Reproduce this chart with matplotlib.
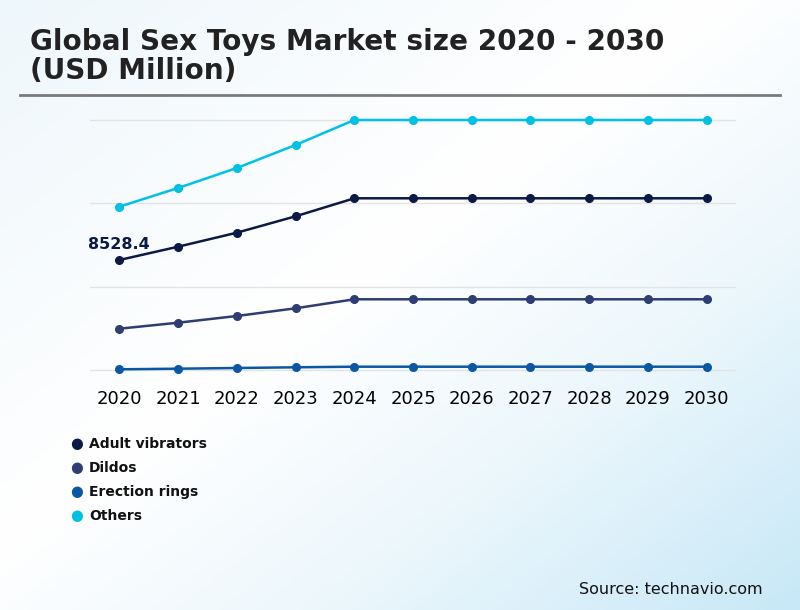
import numpy as np
import matplotlib

matplotlib.use("Agg")
import matplotlib.pyplot as plt
from matplotlib.colors import LinearSegmentedColormap

years = ["2020", "2021", "2022", "2023", "2024", "2025", "2026", "2027", "2028", "2029", "2030"]
adult_vibrators = [8528.4, 9557, 10639, 11907, 13299, 13299, 13299, 13299, 13299, 13299, 13299]
dildos = [3217, 3680, 4199, 4794, 5490, 5490, 5490, 5490, 5490, 5490, 5490]
erection_rings = [77, 124, 178, 232, 278, 278, 278, 278, 278, 278, 278]
others = [12650, 14096, 15642, 17420, 19353, 19353, 19353, 19353, 19353, 19353, 19353]

series = [
    ("Adult vibrators", adult_vibrators, "#0b1a45"),
    ("Dildos", dildos, "#2e3d72"),
    ("Erection rings", erection_rings, "#0a57a4"),
    ("Others", others, "#00c0e4"),
]

W, H = 800, 610
fig = plt.figure(figsize=(W / 100, H / 100), dpi=100)

# background: diagonal gradient, faint tint top-left, white band, light blue bottom-right
bg = fig.add_axes([0, 0, 1, 1])
yy, xx = np.mgrid[0:1:200j, 0:1:260j]
t = (xx + yy) / 2
cmap = LinearSegmentedColormap.from_list(
    "bg", [(0, "#eef7fb"), (0.45, "#ffffff"), (0.7, "#ecf7fc"), (1, "#c8e8f7")])
bg.imshow(t, cmap=cmap, aspect="auto", extent=(0, 1, 0, 1), origin="upper", vmin=0, vmax=1)
bg.set_xlim(0, 1)
bg.set_ylim(0, 1)
bg.axis("off")

# title, two lines placed by baseline
fig.text(30 / W, 1 - 50 / H, "Global Sex Toys Market size 2020 - 2030",
         fontsize=20.1, fontweight="bold", color="#222222", va="baseline", ha="left")
fig.text(30 / W, 1 - 79 / H, "(USD Million)",
         fontsize=20.1, fontweight="bold", color="#222222", va="baseline", ha="left")
bg.plot([20 / W, 780 / W], [1 - 95 / H, 1 - 95 / H], color="#7a7a7a", linewidth=2)

# main axes: px 90..736 horizontally
top_val = max(others)
px_per_val = 250.3 / top_val
y_lo = -4.7 / px_per_val
y_hi = top_val + 5 / px_per_val
ax_top, ax_bot = 115, 375
ax = fig.add_axes([90 / W, 1 - ax_bot / H, (736 - 90) / W, (ax_bot - ax_top) / H])
ax.patch.set_alpha(0)
x = np.arange(len(years))
for name, vals, color in series:
    ax.plot(x, vals, color=color, linewidth=1.8, marker="o", markersize=5.5, label=name, zorder=3)

ax.set_xlim(-0.5, len(years) - 0.5)
ax.set_ylim(y_lo, y_hi)
ax.set_yticks(np.linspace(0, top_val, 4))
ax.yaxis.grid(True, color="#e3e3e3", linewidth=1)
ax.set_yticklabels([])
ax.tick_params(axis="y", length=0)
ax.set_xticks(x)
ax.set_xticklabels(years, fontsize=13)
ax.tick_params(axis="x", length=0, pad=11)
for s in ax.spines.values():
    s.set_visible(False)

ax.annotate(f"{adult_vibrators[0]}", (0, adult_vibrators[0]), xytext=(-22.3, 11.5),
            textcoords="offset points", fontsize=11.5, fontweight="bold", color="#0b1a45",
            ha="left", va="center")

# legend
for i, (name, vals, color) in enumerate(series):
    yp = 1 - (444 + 24 * i) / H
    fig.text(77 / W, yp, "\u25CF", color=color, fontsize=10.5, ha="center", va="center")
    fig.text(89 / W, yp, name, color="#111111", fontsize=10, fontweight="bold",
             ha="left", va="center")

fig.text(763 / W, 1 - 589 / H, "Source: technavio.com", fontsize=11.5, color="#111111",
         ha="right", va="center")

fig.savefig("out.png", dpi=100)
